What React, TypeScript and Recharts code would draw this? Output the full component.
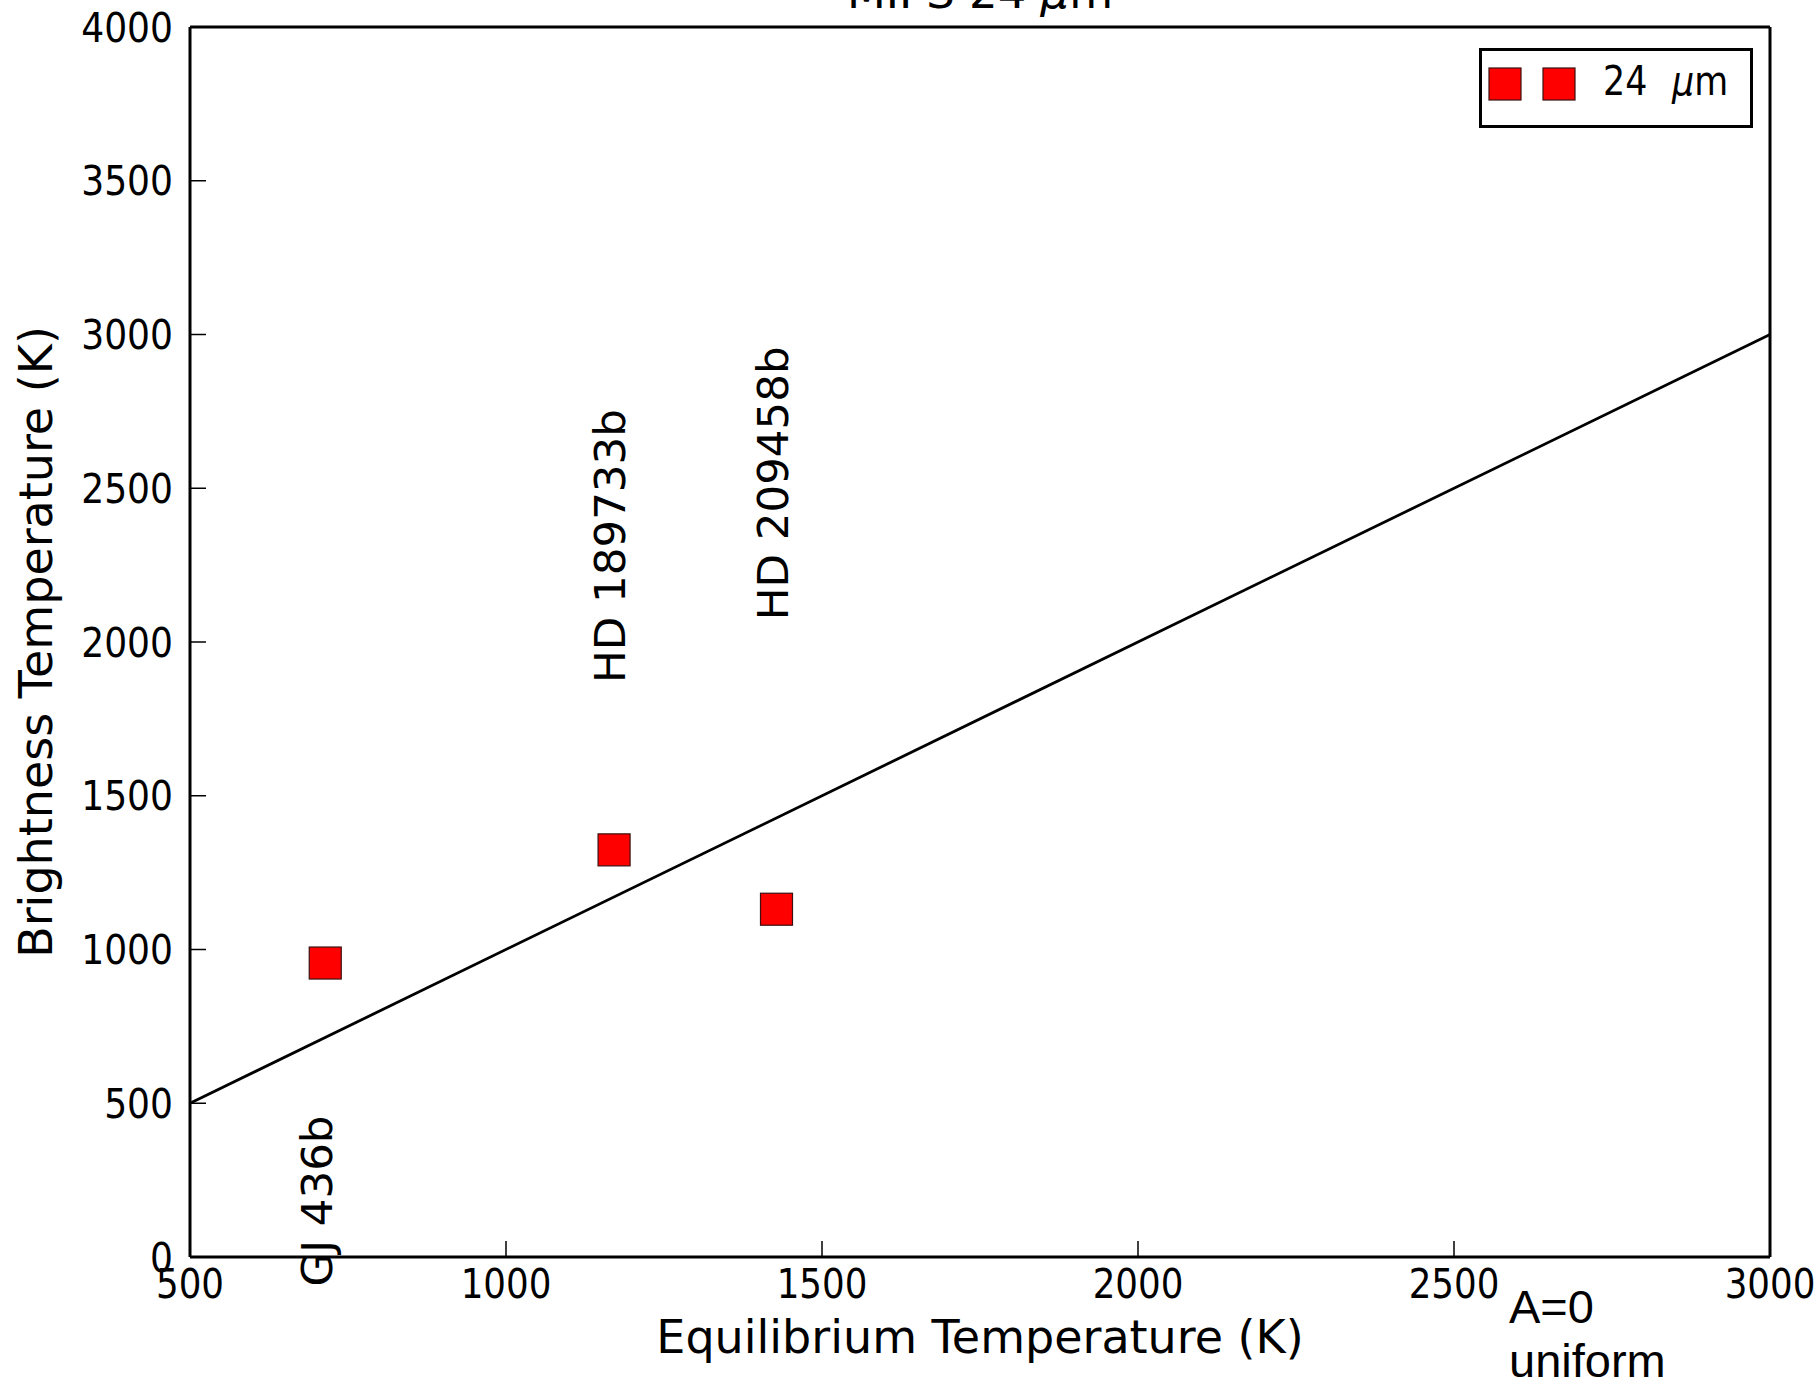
import { ScatterChart, Scatter, XAxis, YAxis, ReferenceLine, Legend, Label } from 'recharts';

const FONT = '"DejaVu Sans", sans-serif';

// planets measured at 24 micron
const planetNames = ['GJ 436b', 'HD 189733b', 'HD 209458b'];
const equilibriumTemps = [714, 1171, 1428];
const brightnessTemps = [956, 1324, 1131];

// where each rotated name sits (data units: baseline x, top end y)
const labelAnchorX = [725, 1188, 1446];
const labelAnchorY = [460, 2757, 2961];

// one-to-one line
const oneToOneX = [500, 3000];
const oneToOneY = [500, 3000];

const xTicks = [500, 1000, 1500, 2000, 2500, 3000];
const yTicks = [0, 500, 1000, 1500, 2000, 2500, 3000, 3500, 4000];

const seriesName = '24 μm';

const points = planetNames.map((name, i) => ({
  name,
  x: equilibriumTemps[i],
  y: brightnessTemps[i],
}));

const labelPoints = planetNames.map((name, i) => ({
  name,
  x: labelAnchorX[i],
  y: labelAnchorY[i],
}));

const TICK_LEN = 16;

const BottomTick = ({ x, y, payload }: any) => (
  <g>
    <line x1={x} y1={y} x2={x} y2={y - TICK_LEN} stroke="#000" strokeWidth={1.5} />
    <text
      transform={`translate(${x} ${y + 41}) scale(0.87 1)`}
      textAnchor="middle"
      fontSize={41}
      fontFamily={FONT}
      fill="#000"
    >
      {payload.value}
    </text>
  </g>
);

const LeftTick = ({ x, y, payload }: any) => (
  <g>
    <line x1={x} y1={y} x2={x + TICK_LEN} y2={y} stroke="#000" strokeWidth={1.5} />
    <text
      transform={`translate(${x - 17} ${y + 14.5}) scale(0.88 1)`}
      textAnchor="end"
      fontSize={41}
      fontFamily={FONT}
      fill="#000"
    >
      {payload.value}
    </text>
  </g>
);

const TopTick = ({ x, y }: any) => (
  <line x1={x} y1={y} x2={x} y2={y + TICK_LEN} stroke="#000" strokeWidth={1.5} />
);

const RightTick = ({ x, y }: any) => (
  <line x1={x} y1={y} x2={x - TICK_LEN} y2={y} stroke="#000" strokeWidth={1.5} />
);

const renderXLabel = ({ viewBox }: any) => (
  <text
    x={viewBox.x + viewBox.width / 2}
    y={viewBox.y + 96}
    textAnchor="middle"
    fontSize={46}
    fontFamily={FONT}
    fill="#000"
  >
    Equilibrium Temperature (K)
  </text>
);

const renderYLabel = ({ viewBox }: any) => {
  const x = viewBox.x + 52;
  const y = viewBox.y + viewBox.height / 2;
  return (
    <text
      x={x}
      y={y}
      transform={`rotate(-90 ${x} ${y})`}
      textAnchor="middle"
      fontSize={46}
      fontFamily={FONT}
      fill="#000"
    >
      Brightness Temperature (K)
    </text>
  );
};

const renderSquare = (props: any) => (
  <rect
    x={props.cx - 16}
    y={props.cy - 16}
    width={32}
    height={32}
    fill="#ff0000"
    stroke="#3b1010"
    strokeWidth={1.2}
  />
);

const renderPlanetLabel = (props: any) => {
  const { cx, cy, payload } = props;
  return (
    <text
      x={cx}
      y={cy}
      transform={`rotate(-90 ${cx} ${cy})`}
      textAnchor="end"
      fontSize={43.5}
      fontFamily={FONT}
      fill="#000"
    >
      {payload.name}
    </text>
  );
};

const renderLegend = () => (
  <svg width={274} height={80} style={{ display: 'block' }}>
    <rect x={1.5} y={1.5} width={271} height={77} fill="#fff" stroke="#000" strokeWidth={3} />
    <rect x={10} y={20} width={32} height={32} fill="#ff0000" stroke="#3b1010" strokeWidth={1.2} />
    <rect x={64} y={20} width={32} height={32} fill="#ff0000" stroke="#3b1010" strokeWidth={1.2} />
    <text
      transform="translate(124 47) scale(0.85 1)"
      fontSize={41}
      fontFamily={FONT}
      fill="#000"
    >
      <tspan>{seriesName.split(' ')[0]}</tspan>
      <tspan dx={29} fontStyle="italic">μ</tspan>
      <tspan>m</tspan>
    </text>
  </svg>
);

export default function App() {
  return (
    <div
      style={{
        position: 'absolute',
        left: 0,
        top: 0,
        width: 1818,
        height: 1384,
        background: '#fff',
        overflow: 'hidden',
      }}
    >
      <ScatterChart
        width={1818}
        height={1384}
        margin={{ top: 0, right: 0, bottom: 0, left: 0 }}
      >
        <XAxis
          type="number"
          dataKey="x"
          domain={[500, 3000]}
          ticks={xTicks}
          height={127}
          axisLine={{ stroke: '#000', strokeWidth: 3 }}
          tickLine={false}
          tickSize={0}
          tickMargin={0}
          tick={<BottomTick />}
          label={<Label content={renderXLabel} />}
        />
        <XAxis
          xAxisId="top"
          orientation="top"
          type="number"
          domain={[500, 3000]}
          ticks={xTicks}
          height={27}
          axisLine={{ stroke: '#000', strokeWidth: 3 }}
          tickLine={false}
          tickSize={0}
          tickMargin={0}
          tick={<TopTick />}
        />
        <YAxis
          type="number"
          dataKey="y"
          domain={[0, 4000]}
          ticks={yTicks}
          width={190}
          axisLine={{ stroke: '#000', strokeWidth: 3 }}
          tickLine={false}
          tickSize={0}
          tickMargin={0}
          tick={<LeftTick />}
          label={<Label content={renderYLabel} />}
        />
        <YAxis
          yAxisId="right"
          orientation="right"
          type="number"
          domain={[0, 4000]}
          ticks={yTicks}
          width={48}
          axisLine={{ stroke: '#000', strokeWidth: 3 }}
          tickLine={false}
          tickSize={0}
          tickMargin={0}
          tick={<RightTick />}
        />
        <ReferenceLine
          segment={[
            { x: oneToOneX[0], y: oneToOneY[0] },
            { x: oneToOneX[1], y: oneToOneY[1] },
          ]}
          stroke="#000"
          strokeWidth={2.8}
        />
        <Scatter
          name={seriesName}
          data={points}
          fill="#ff0000"
          shape={renderSquare}
          isAnimationActive={false}
        />
        <Scatter
          data={labelPoints}
          shape={renderPlanetLabel}
          legendType="none"
          isAnimationActive={false}
        />
        <Legend
          layout="horizontal"
          verticalAlign="middle"
          align="center"
          content={renderLegend}
          wrapperStyle={{ position: 'absolute', left: 1479, top: 48, width: 274, height: 80 }}
        />
      </ScatterChart>
      <div
        style={{
          position: 'absolute',
          left: 190,
          width: 1580,
          top: -30,
          textAlign: 'center',
          fontFamily: FONT,
          fontSize: 45,
          lineHeight: '45px',
          color: '#000',
          whiteSpace: 'pre',
        }}
      >
        MIPS 24 <span style={{ fontStyle: 'italic' }}>μ</span>m
      </div>
      <div
        style={{
          position: 'absolute',
          left: 1509,
          top: 1280,
          fontFamily: '"Liberation Sans", Arial, sans-serif',
          fontSize: 47,
          lineHeight: '54px',
          color: '#000',
        }}
      >
        A=0
        <br />
        uniform
      </div>
    </div>
  );
}
